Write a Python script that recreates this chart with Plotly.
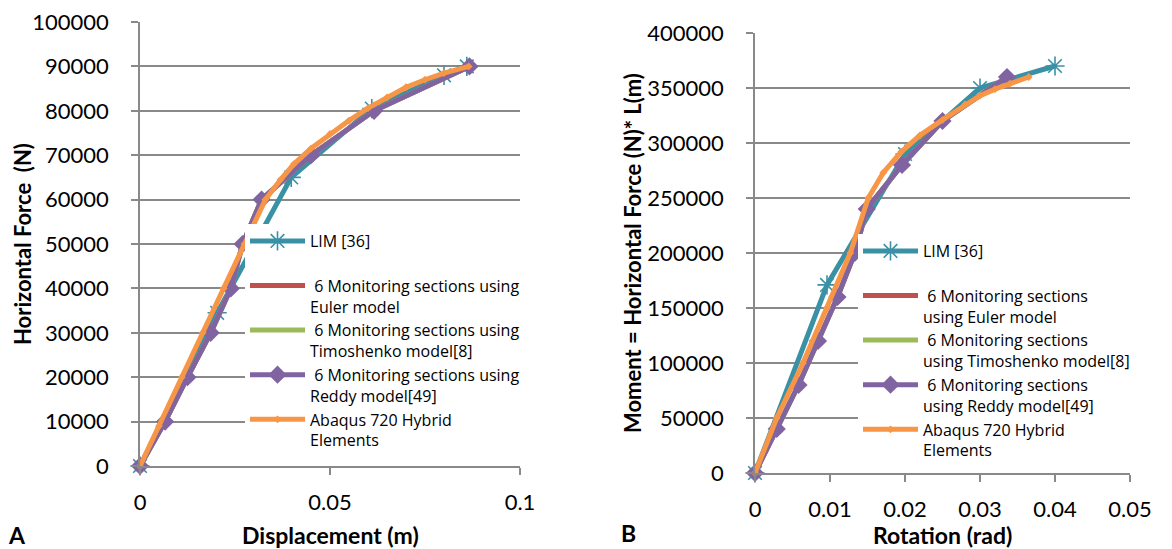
import plotly.graph_objects as go

W, H = 1172, 549

# ---- Panel A data: Displacement (m) vs Horizontal Force (N)
lim_a_x = [0, 0.0203, 0.0398, 0.061, 0.080, 0.086]
lim_a_y = [0, 34500, 65000, 80500, 88000, 90000]
reddy_a_x = [0, 0.0066, 0.0125, 0.0186, 0.0239, 0.027, 0.0320, 0.045, 0.0616, 0.0867]
reddy_a_y = [0, 10000, 20000, 30000, 40000, 50000, 60000, 70000, 80000, 90000]
euler_a_x = reddy_a_x
euler_a_y = reddy_a_y
timo_a_x = reddy_a_x
timo_a_y = reddy_a_y
abaqus_a_x = [0, 0.005, 0.011, 0.0165, 0.022, 0.0275, 0.033, 0.0370, 0.0405, 0.045, 0.050,
              0.055, 0.060, 0.065, 0.070, 0.075, 0.080, 0.0865]
abaqus_a_y = [0, 9000, 20000, 30000, 40000, 50000, 60000, 64500, 68000, 71500, 74800,
              77800, 80600, 83000, 85300, 87000, 88500, 90000]

# ---- Panel B data: Rotation (rad) vs Moment
lim_b_x = [0, 0.0096, 0.020, 0.030, 0.040]
lim_b_y = [0, 171000, 290000, 350000, 370000]
reddy_b_x = [0, 0.0029, 0.0058, 0.0084, 0.011, 0.0133, 0.0149, 0.0196, 0.025, 0.0336]
reddy_b_y = [0, 40000, 80000, 120000, 160000, 200000, 240000, 280000, 320000, 360000]
euler_b_x = reddy_b_x
euler_b_y = reddy_b_y
timo_b_x = reddy_b_x
timo_b_y = reddy_b_y
abaqus_b_x = [0, 0.0029, 0.0064, 0.0096, 0.0127, 0.0151, 0.0171, 0.0195, 0.022, 0.025, 0.028,
              0.030, 0.032, 0.034, 0.0365]
abaqus_b_y = [0, 50000, 100000, 150000, 200000, 250000, 273000, 292000, 307000, 321000, 335000,
              343000, 349000, 354000, 360000]

names_a = ["LIM [36]<br> ",
           " 6 Monitoring sections using<br>Euler model",
           " 6 Monitoring sections using<br>Timoshenko model[8]",
           " 6 Monitoring sections using<br>Reddy model[49]",
           "Abaqus 720 Hybrid<br>Elements"]
names_b = ["LIM [36]<br> ",
           " 6 Monitoring sections<br>using Euler model",
           " 6 Monitoring sections<br>using Timoshenko model[8]",
           " 6 Monitoring sections<br>using Reddy model[49]",
           "Abaqus 720 Hybrid<br>Elements"]

C_LIM = "#3A91A5"
C_RED = "#C0504D"
C_GRN = "#9BBB59"
C_PUR = "#8064A2"
C_ORG = "#F79646"
GRID = "#898989"
FONT = "Lato"
LFONT = "Open Sans"

fig = go.Figure()

def add_panel(xs, ys, names, xa, ya, leg):
    specs = [
        (C_LIM, dict(symbol="asterisk-open", size=16, color=C_LIM, line=dict(color=C_LIM, width=1.6)), "lines+markers"),
        (C_RED, None, "lines"),
        (C_GRN, None, "lines"),
        (C_PUR, dict(symbol="diamond", size=14, color=C_PUR), "lines+markers"),
        (C_ORG, dict(symbol="diamond", size=6, color=C_ORG), "lines+markers"),
    ]
    for (c, mk, mode), x, y, nm in zip(specs, xs, ys, names):
        kw = dict(x=x, y=y, name=nm, mode=mode, line=dict(color=c, width=5),
                  xaxis=xa, yaxis=ya, legend=leg, cliponaxis=False,
                  legendgroup=leg + nm)
        if mk:
            kw["marker"] = mk
        fig.add_trace(go.Scatter(**kw))

add_panel([lim_a_x, euler_a_x, timo_a_x, reddy_a_x, abaqus_a_x],
          [lim_a_y, euler_a_y, timo_a_y, reddy_a_y, abaqus_a_y],
          names_a, "x", "y", "legend")
add_panel([lim_b_x, euler_b_x, timo_b_x, reddy_b_x, abaqus_b_x],
          [lim_b_y, euler_b_y, timo_b_y, reddy_b_y, abaqus_b_y],
          names_b, "x2", "y2", "legend2")

def fx(px):
    return px / W

def fy(py):
    return 1 - py / H

axis_common = dict(showline=True, linecolor=GRID, linewidth=1.5, ticks="outside", ticklen=7,
                   tickcolor=GRID, tickwidth=1.5, zeroline=False, automargin=False,
                   tickfont=dict(family=FONT, size=22, color="#000000"))

legend_common = dict(xanchor="left", yanchor="top", bgcolor="white",
                     borderwidth=0, valign="top", itemwidth=55, tracegroupgap=0,
                     traceorder="grouped", itemclick=False,
                     font=dict(family=LFONT, size=16, color="#000000"))

fig.update_layout(
    width=W, height=H,
    margin=dict(l=0, r=0, t=0, b=0, autoexpand=False),
    paper_bgcolor="white", plot_bgcolor="white",
    showlegend=True,
    xaxis=dict(domain=[fx(140), fx(520)], range=[0, 0.1], anchor="y",
               tickvals=[0, 0.05, 0.1], ticktext=["0", "0.05", "0.1"], showgrid=False,
               ticklabelstandoff=9, **axis_common),
    yaxis=dict(domain=[fy(466), fy(22)], range=[0, 100000], anchor="x",
               tickvals=list(range(0, 100001, 10000)),
               ticktext=[str(v) for v in range(0, 100001, 10000)],
               showgrid=True, gridcolor=GRID, gridwidth=1.5, ticklabelstandoff=18, **axis_common),
    xaxis2=dict(domain=[fx(755), fx(1130)], range=[0, 0.05], anchor="y2",
                tickvals=[0, 0.01, 0.02, 0.03, 0.04, 0.05],
                ticktext=["0", "0.01", "0.02", "0.03", "0.04", "0.05"], showgrid=False,
                ticklabelstandoff=9, **axis_common),
    yaxis2=dict(domain=[fy(473), fy(33)], range=[0, 400000], anchor="x2",
                tickvals=list(range(0, 400001, 50000)),
                ticktext=[str(v) for v in range(0, 400001, 50000)],
                showgrid=True, gridcolor=GRID, gridwidth=1.5, ticklabelstandoff=18, **axis_common),
    legend=dict(x=fx(245), y=fy(224), **legend_common),
    legend2=dict(x=fx(858), y=fy(234), **legend_common),
)

ann = [
    dict(text="<b>Horizontal Force  (N)</b>", x=fx(22), y=fy(244), textangle=-90, size=22),
    dict(text="<b>Moment = Horizontal Force (N)* L(m)</b>", x=fx(632), y=fy(253), textangle=-90, size=22),
    dict(text="<b>Displacement (m)</b>", x=fx(330), y=fy(535), size=23),
    dict(text="<b>Rotation (rad)</b>", x=fx(942), y=fy(535), size=23),
    dict(text="<b>A</b>", x=fx(17), y=fy(535), size=23),
    dict(text="<b>B</b>", x=fx(628), y=fy(533), size=23),
]
for a in ann:
    sz = a.pop("size")
    fig.add_annotation(xref="paper", yref="paper", showarrow=False,
                       font=dict(family=FONT, size=sz, color="#000000"),
                       xanchor="center", yanchor="middle", **a)

fig.write_html("out.html")
